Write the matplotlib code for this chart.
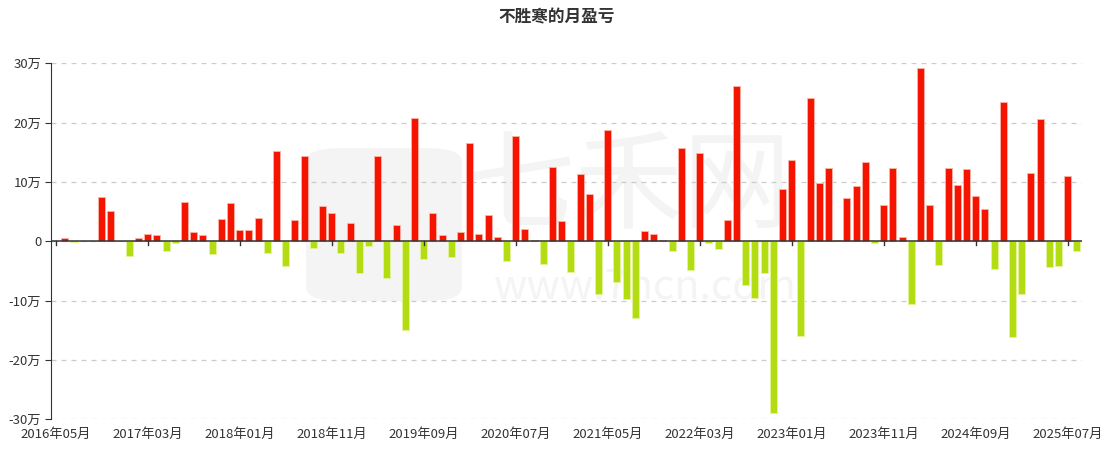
import matplotlib
matplotlib.use("Agg")
import matplotlib.pyplot as plt
from matplotlib.patches import FancyBboxPatch
import numpy as np

plt.rcParams['font.family'] = ['Noto Sans CJK SC', 'DejaVu Sans']

# 月份 2016-05 .. 2025-08
start_year, start_month = 2016, 5
n_months = 112
months = []
for i in range(n_months):
    y = start_year + (start_month - 1 + i) // 12
    m = (start_month - 1 + i) % 12 + 1
    months.append("%d年%02d月" % (y, m))

# 月盈亏 (单位: 万)
pnl = [
    0.0, 0.5, -0.1, 0.0, 0.1, 7.5, 5.1, 0.0, -2.5, 0.6,
    1.3, 1.1, -1.7, -0.3, 6.6, 1.6, 1.0, -2.1, 3.7, 6.4,
    1.9, 1.85, 3.9, -1.9, 15.2, -4.1, 3.6, 14.4, -1.1, 6.0,
    4.8, -2.0, 3.1, -5.4, -0.8, 14.4, -6.1, 2.8, -14.9, 20.7,
    -3.0, 4.7, 1.0, -2.7, 1.5, 16.5, 1.2, 4.4, 0.8, -3.3,
    17.8, 2.1, 0.3, -3.9, 12.6, 3.4, -5.2, 11.3, 8.0, -8.9,
    18.7, -6.8, -9.8, -12.9, 1.7, 1.2, 0.3, -1.6, 15.7, -4.8,
    14.8, -0.3, -1.3, 3.6, 26.2, -7.4, -9.5, -5.3, -29.0, 8.8,
    13.7, -16.0, 24.2, 9.8, 12.3, 0.3, 7.3, 9.3, 13.3, -0.3,
    6.2, 12.3, 0.8, -10.5, 29.2, 6.1, -4.0, 12.3, 9.5, 12.2,
    7.6, 5.4, -4.7, 23.4, -16.2, -8.9, 11.5, 20.6, -4.4, -4.2,
    11.0, -1.7,
]

y_ticks = [-30, -20, -10, 0, 10, 20, 30]
y_labels = ["%d万" % v if v != 0 else "0" for v in y_ticks]
label_step = 10

red = '#f51400'
green = '#b3dd12'

fig = plt.figure(figsize=(11.13, 4.49), dpi=100)
ax = fig.add_axes([0.0459, 0.0661, 0.9258, 0.7929])

x = np.arange(n_months)
vals = np.array(pnl)
colors = [red if v >= 0 else green for v in vals]
edges = ['#fbb3a8' if v >= 0 else '#e3f39a' for v in vals]

# 水印 (放在柱子下面)
wm = '#f4f4f4'
ax.add_patch(FancyBboxPatch((0.275, 0.33), 0.14, 0.34, boxstyle="round,pad=0,rounding_size=0.03",
                            transform=fig.transFigure, facecolor=wm, edgecolor='none', zorder=0.2,
                            clip_on=False))
ax.text(0.565, 0.58, "七禾网", fontsize=78, color=wm, ha='center', va='center', zorder=0.2,
        transform=fig.transFigure)
ax.text(0.58, 0.36, "www.7hcn.com", fontsize=30, color=wm, ha='center', va='center', zorder=0.2,
        transform=fig.transFigure)

ax.bar(x, vals, width=0.78, color=colors, edgecolor=edges, linewidth=0.6, zorder=3)

ax.set_xlim(-0.5, n_months - 0.5)
ax.set_ylim(-30, 30)
ax.set_yticks(y_ticks)
ax.set_yticklabels(y_labels, fontsize=9.5, color='#333333')
ax.yaxis.grid(True, linestyle=(0, (4, 4)), color='#cccccc', linewidth=0.9, zorder=0.5)
ax.set_axisbelow(True)

ax.axhline(0, color='#333333', linewidth=1.1, zorder=4)
for i in range(0, n_months, label_step):
    ax.plot([i, i], [0, -0.7], color='#333333', linewidth=1, zorder=4)

ax.set_xticks(x[::label_step])
ax.set_xticklabels(months[::label_step], fontsize=9.5, color='#333333')
ax.tick_params(axis='x', length=0, pad=6)
ax.tick_params(axis='y', length=4, color='#333333', pad=3)

for s in ['top', 'right', 'bottom']:
    ax.spines[s].set_visible(False)
ax.spines['left'].set_color('#333333')

fig.text(0.5, 0.962, "不胜寒的月盈亏", ha='center', va='center', fontsize=12,
         fontweight='bold', color='#333333')

fig.savefig('out.png', dpi=100)
